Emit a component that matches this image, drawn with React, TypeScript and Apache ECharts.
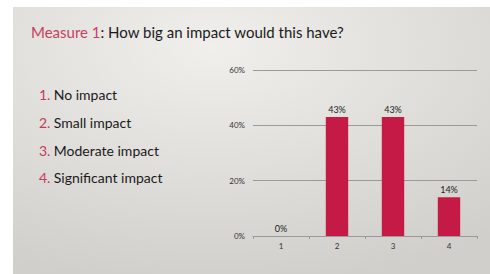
import React, { useEffect, useRef } from "react";
import * as echarts from "echarts";

const categories = ["1", "2", "3", "4"];
const values = [0, 43, 43, 14];
const legendItems = ["No impact", "Small impact", "Moderate impact", "Significant impact"];
const titleLead = "Measure 1";
const titleRest = ": How big an impact would this have?";

export default function App() {
  const ref = useRef<HTMLDivElement>(null);
  useEffect(() => {
    const chart = echarts.init(ref.current!, null, { renderer: "svg" });
    const font = "Lato, 'Open Sans', sans-serif";
    const listGraphics = legendItems.map((t, i) => ({
      type: "text",
      left: 39,
      top: [87, 115, 143, 170][i],
      style: {
        text: `{n|${i + 1}.} {t|${t}}`,
        rich: {
          n: { fill: "#c43a5c", fontSize: 14, fontFamily: font },
          t: { fill: "#1a1a1a", fontSize: 14, fontFamily: font },
        },
      },
    }));
    chart.setOption({
      animation: false,
      graphic: [
        {
          type: "rect",
          shape: { x: 0, y: 0, width: 490, height: 274 },
          style: { fill: "#ffffff" },
          z: -10,
        },
        {
          type: "rect",
          shape: { x: 13, y: 7, width: 477, height: 267 },
          style: {
            fill: new echarts.graphic.RadialGradient(0.42, 0.15, 0.9, [
              { offset: 0, color: "#f0efec" },
              { offset: 1, color: "#d1cfcb" },
            ]),
          },
          z: -9,
        },
        {
          type: "text",
          left: 31,
          top: 24,
          style: {
            text: `{a|${titleLead}}{b|${titleRest}}`,
            rich: {
              a: { fill: "#c8405f", fontSize: 15, fontFamily: font },
              b: { fill: "#1a1a1a", fontSize: 15, fontFamily: font },
            },
          },
        },
        ...listGraphics,
      ],
      grid: { left: 253, right: 13, top: 70, bottom: 38 },
      xAxis: {
        type: "category",
        data: categories,
        axisLine: { lineStyle: { color: "#9a9a9a", width: 1 } },
        axisTick: { show: true, length: 3, lineStyle: { color: "#9a9a9a" } },
        axisLabel: { color: "#333", fontSize: 8, fontFamily: font, margin: 6 },
      },
      yAxis: {
        type: "value",
        min: 0,
        max: 60,
        interval: 20,
        axisLabel: {
          formatter: "{value}%",
          color: "#333",
          fontSize: 8,
          fontFamily: font,
          margin: 8,
        },
        splitLine: { lineStyle: { color: "#9a9a9a", width: 1 } },
        axisLine: { show: false },
        axisTick: { show: false },
      },
      series: [
        {
          type: "bar",
          data: values,
          barWidth: "40%",
          itemStyle: { color: "#c41a45" },
          label: {
            show: true,
            position: "top",
            formatter: "{c}%",
            color: "#222",
            fontSize: 9,
            fontFamily: font,
            distance: 3,
          },
        },
      ],
    });
    return () => chart.dispose();
  }, []);
  return (
    <div
      ref={ref}
      style={{ position: "absolute", left: 0, top: 0, width: 490, height: 274 }}
    />
  );
}
